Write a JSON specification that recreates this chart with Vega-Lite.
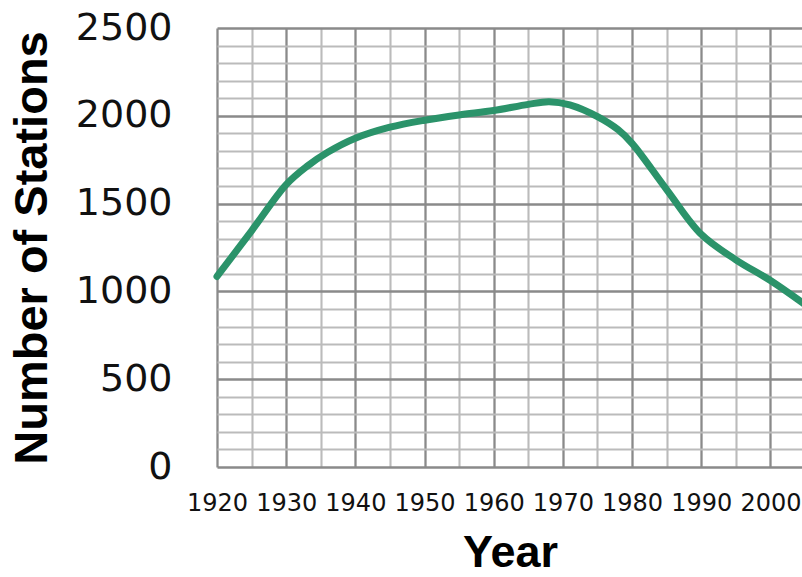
{
  "$schema": "https://vega.github.io/schema/vega-lite/v6.json",
  "width": 588,
  "height": 439,
  "autosize": {"type": "none"},
  "padding": {"left": 217, "top": 28, "right": 0, "bottom": 110},
  "background": "white",
  "config": {"view": {"stroke": null}},
  "data": {
    "values": [
      {"year": 1920, "stations": 1085},
      {"year": 1925, "stations": 1345},
      {"year": 1930, "stations": 1608},
      {"year": 1933, "stations": 1712},
      {"year": 1936, "stations": 1792},
      {"year": 1940, "stations": 1872},
      {"year": 1945, "stations": 1935},
      {"year": 1950, "stations": 1975},
      {"year": 1955, "stations": 2005},
      {"year": 1960, "stations": 2030},
      {"year": 1965, "stations": 2065},
      {"year": 1968, "stations": 2080},
      {"year": 1971, "stations": 2062},
      {"year": 1975, "stations": 1995},
      {"year": 1978, "stations": 1920},
      {"year": 1980, "stations": 1843},
      {"year": 1985, "stations": 1580},
      {"year": 1990, "stations": 1325},
      {"year": 1995, "stations": 1180},
      {"year": 2000, "stations": 1062},
      {"year": 2005, "stations": 925}
    ]
  },
  "mark": {"type": "line", "interpolate": "catmull-rom", "color": "#2b936a", "strokeWidth": 7, "strokeCap": "round"},
  "encoding": {
    "x": {
      "field": "year",
      "type": "quantitative",
      "scale": {"domain": [1920, 2005], "nice": false, "zero": false},
      "axis": {
        "values": [1920, 1925, 1930, 1935, 1940, 1945, 1950, 1955, 1960, 1965, 1970, 1975, 1980, 1985, 1990, 1995, 2000, 2005],
        "format": "d",
        "labelExpr": "datum.value % 10 === 0 ? datum.label : ''",
        "domain": false,
        "ticks": false,
        "tickSize": 0,
        "grid": true,
        "gridColor": {"condition": {"test": "datum.value % 10 === 0", "value": "#8a8a8a"}, "value": "#bbbbbb"},
        "gridWidth": {"condition": {"test": "datum.value % 10 === 0", "value": 2.3}, "value": 2.1},
        "gridOpacity": 1,
        "labelFont": "DejaVu Sans",
        "labelFontSize": 24,
        "labelColor": "#111111",
        "labelBaseline": "alphabetic",
        "labelPadding": 43,
        "labelFlush": false,
        "labelOverlap": false,
        "title": "Year",
        "titleFont": "Liberation Sans",
        "titleFontWeight": "bold",
        "titleFontSize": 45,
        "titleColor": "#000000",
        "titleX": 293,
        "titleY": 99,
        "titleAlign": "center",
        "titleBaseline": "alphabetic"
      }
    },
    "y": {
      "field": "stations",
      "type": "quantitative",
      "scale": {"domain": [0, 2500], "nice": false},
      "axis": {
        "values": [0, 100, 200, 300, 400, 500, 600, 700, 800, 900, 1000, 1100, 1200, 1300, 1400, 1500, 1600, 1700, 1800, 1900, 2000, 2100, 2200, 2300, 2400, 2500],
        "format": "d",
        "labelExpr": "datum.value % 500 === 0 ? datum.label : ''",
        "domain": false,
        "ticks": false,
        "tickSize": 0,
        "grid": true,
        "gridColor": {"condition": {"test": "datum.value % 500 === 0", "value": "#8a8a8a"}, "value": "#bbbbbb"},
        "gridWidth": {"condition": {"test": "datum.value % 500 === 0", "value": 2.3}, "value": 2.1},
        "gridOpacity": 1,
        "labelFont": "DejaVu Sans",
        "labelFontSize": 38,
        "labelColor": "#111111",
        "labelBaseline": "middle",
        "labelAlign": "right",
        "labelPadding": 45,
        "labelFlush": false,
        "labelOverlap": false,
        "title": "Number of Stations",
        "titleFont": "Liberation Sans",
        "titleFontWeight": "bold",
        "titleFontSize": 47,
        "titleColor": "#000000",
        "titleAngle": -90,
        "titleX": -185,
        "titleY": 219.5,
        "titleAlign": "center",
        "titleBaseline": "middle"
      }
    }
  }
}
